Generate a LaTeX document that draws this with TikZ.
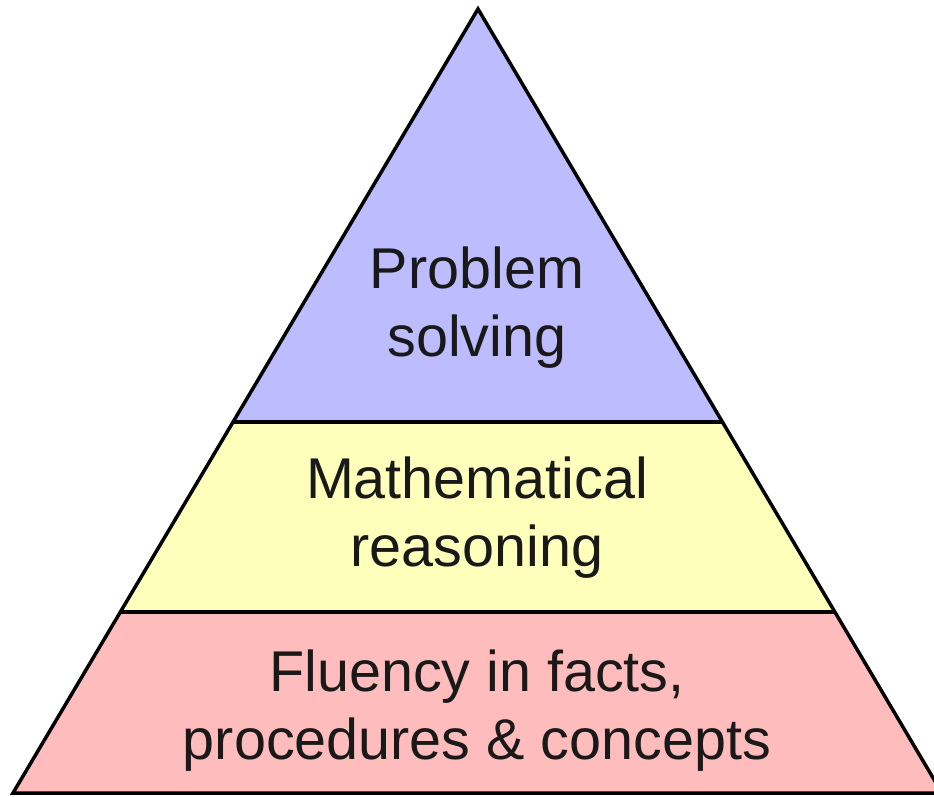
\documentclass[tikz,border=0pt]{standalone}
\usepackage{fontspec}
\setmainfont{Liberation Sans}
\usepackage{xcolor}

\definecolor{topblue}{HTML}{BCBCFF}
\definecolor{midyellow}{HTML}{FFFFBC}
\definecolor{basepink}{HTML}{FFBCBC}

\begin{document}
\begin{tikzpicture}[x=1pt,y=1pt,
	label/.style={align=center,text=black!90,font=\fontsize{57.5}{68}\selectfont}]
	\useasboundingbox (0,0) rectangle (934,796);
	% corners of the three layers
	\coordinate (apex) at (478,787);
	\coordinate (l1) at (233,374);
	\coordinate (r1) at (722,374);
	\coordinate (l2) at (120,184);
	\coordinate (r2) at (835,184);
	\coordinate (l3) at (13,3);
	\coordinate (r3) at (942,3);
	\fill[topblue] (apex) -- (r1) -- (l1) -- cycle;
	\fill[midyellow] (l1) -- (r1) -- (r2) -- (l2) -- cycle;
	\fill[basepink] (l2) -- (r2) -- (r3) -- (l3) -- cycle;
	\draw[line width=3.5pt] (apex) -- (r3) -- (l3) -- cycle;
	\draw[line width=3.5pt] (l1) -- (r1);
	\draw[line width=3.5pt] (l2) -- (r2);
	\node[label] (solving) at (477,488) {Problem\\solving};
	\node[label] (reasoning) at (477,278) {Mathematical\\reasoning};
	\node[label] (fluency) at (477,85) {Fluency in facts,\\procedures \& concepts};
\end{tikzpicture}
\end{document}
